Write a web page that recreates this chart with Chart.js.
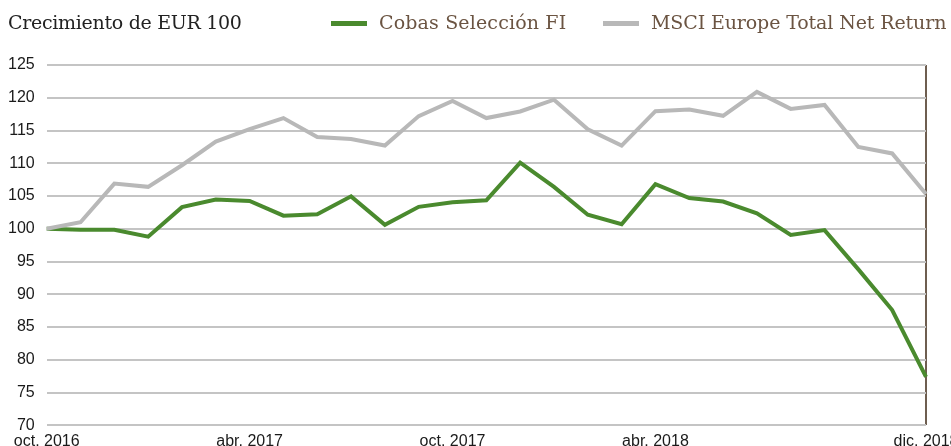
<!DOCTYPE html>
<html>
<head>
<meta charset="utf-8">
<script src="https://cdn.jsdelivr.net/npm/chart.js@4.4.1/dist/chart.umd.min.js"></script>
<style>
  html, body { margin: 0; padding: 0; background: #fff; overflow: hidden; width: 951px; height: 446px; }
  #wrap { position: relative; width: 1000px; height: 460px; }
  .hdr { position: absolute; top: 10px; font-family: "DejaVu Serif", "Liberation Serif", serif; font-size: 19px; white-space: nowrap; line-height: 24px; }
  #title { left: 8px; color: #222; letter-spacing: -0.3px; }
  .leg { color: #6b5442; }
  .sw { position: absolute; top: 21px; height: 5px; width: 36px; }
</style>
</head>
<body>
<div id="wrap">
  <canvas id="growthChart"></canvas>
  <div class="hdr" id="title">Crecimiento de EUR 100</div>
  <div class="sw" style="left:331px;background:#4a8a2e"></div>
  <div class="hdr leg" style="left:379px;letter-spacing:0.15px">Cobas Selección FI</div>
  <div class="sw" style="left:603px;background:#b8b8b8"></div>
  <div class="hdr leg" style="left:651px;letter-spacing:-0.12px">MSCI Europe Total Net Return</div>
</div>
<script>
// --- DATA (monthly, oct. 2016 -> dic. 2018) ---
const months = [
  'oct. 2016', 'nov. 2016', 'dic. 2016', 'ene. 2017', 'feb. 2017', 'mar. 2017',
  'abr. 2017', 'may. 2017', 'jun. 2017', 'jul. 2017', 'ago. 2017', 'sep. 2017',
  'oct. 2017', 'nov. 2017', 'dic. 2017', 'ene. 2018', 'feb. 2018', 'mar. 2018',
  'abr. 2018', 'may. 2018', 'jun. 2018', 'jul. 2018', 'ago. 2018', 'sep. 2018',
  'oct. 2018', 'nov. 2018', 'dic. 2018'
];
const shownLabels = ['oct. 2016', 'abr. 2017', 'oct. 2017', 'abr. 2018', 'dic. 2018'];

const cobasValues = [
  100.0, 99.85, 99.85, 98.8, 103.3, 104.45, 104.25, 102.0, 102.2, 104.95,
  100.6, 103.35, 104.05, 104.35, 110.1, 106.4, 102.15, 100.7, 106.8, 104.7,
  104.15, 102.35, 99.05, 99.8, 93.8, 87.6, 77.4
];
const msciValues = [
  100.0, 101.0, 106.9, 106.4, 109.7, 113.3, 115.2, 116.9, 114.0, 113.7,
  112.7, 117.2, 119.5, 116.9, 117.9, 119.7, 115.2, 112.7, 117.95, 118.2,
  117.25, 120.9, 118.3, 118.9, 112.5, 111.5, 105.3
];

const yMin = 70;
const yMax = 125;
const yStep = 5;

// --- CHART ---
const tickFont = { family: '"Liberation Sans", Arial, sans-serif', size: 16 };

new Chart(document.getElementById('growthChart').getContext('2d'), {
  type: 'line',
  data: {
    labels: months,
    datasets: [
      {
        label: 'MSCI Europe Total Net Return',
        data: msciValues,
        borderColor: '#b8b8b8',
        borderWidth: 4,
        pointRadius: 0,
        tension: 0,
        fill: false
      },
      {
        label: 'Cobas Selección FI',
        data: cobasValues,
        borderColor: '#4a8a2e',
        borderWidth: 4,
        pointRadius: 0,
        tension: 0,
        fill: false
      }
    ]
  },
  options: {
    responsive: true,
    maintainAspectRatio: false,
    animation: false,
    layout: { padding: { top: 65, left: -4, right: 74, bottom: 1.5 } },
    plugins: {
      legend: { display: false },
      tooltip: { enabled: false }
    },
    scales: {
      x: {
        offset: false,
        border: { display: false },
        grid: {
          drawTicks: false,
          lineWidth: 2,
          color: (ctx) => ctx.index === months.length - 1 ? '#6e5e50' : 'rgba(0,0,0,0)'
        },
        ticks: {
          autoSkip: false,
          maxRotation: 0,
          padding: 7,
          color: '#1a1a1a',
          font: tickFont,
          callback: function (val, i) {
            const lbl = months[i];
            return shownLabels.includes(lbl) ? lbl : '';
          }
        }
      },
      y: {
        min: yMin,
        max: yMax,
        border: { display: false },
        grid: { drawTicks: false, color: '#c4c4c4', lineWidth: 2 },
        ticks: {
          stepSize: yStep,
          padding: 12,
          color: '#1a1a1a',
          font: tickFont
        }
      }
    }
  }
});
</script>
</body>
</html>
